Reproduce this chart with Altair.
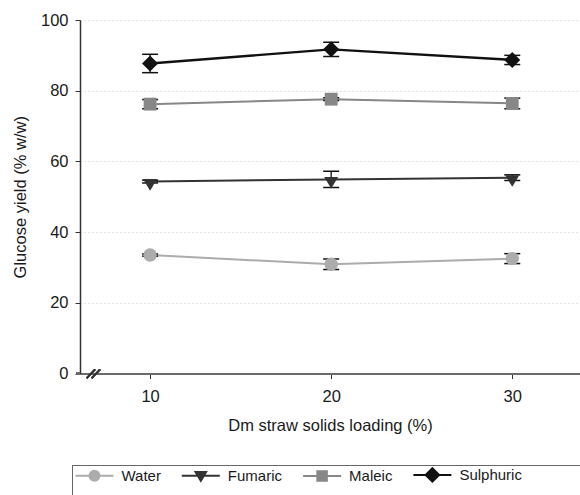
import altair as alt
import pandas as pd

# Solids loading (%) on the x axis
loading = [10, 20, 30]
series = ["Water", "Fumaric", "Maleic", "Sulphuric"]

# Mean glucose yield (% w/w) per pretreatment
water = [33.5, 30.9, 32.5]
fumaric = [54.3, 54.9, 55.4]
maleic = [76.2, 77.6, 76.4]
sulphuric = [87.7, 91.7, 88.7]

# Standard deviations
water_err = [0.3, 1.5, 1.4]
fumaric_err = [0.4, 2.3, 0.8]
maleic_err = [1.3, 0.4, 1.5]
sulphuric_err = [2.6, 2.0, 1.3]

# Styling per series
colors = ["#acacac", "#333333", "#878787", "#111111"]
line_widths = [2.0, 2.0, 2.0, 2.4]
marker_shapes = ["circle", "M-1,-0.35L1,-0.35L0,1.3Z", "square", "diamond"]
marker_sizes = [180, 196, 165, 256]

# Legend glyphs: a short line segment with the marker in the middle
seg = "M-3.8,0H3.8"
legend_paths = [
    seg + "M1,0A1,1,0,1,1,-1,0A1,1,0,1,1,1,0Z",
    seg + "M-1.05,-0.75H1.05L0,1Z",
    seg + "M-0.95,-0.95H0.95V0.95H-0.95Z",
    seg + "M0,-1.35L1.35,0L0,1.35L-1.35,0Z",
]

means = [water, fumaric, maleic, sulphuric]
errs = [water_err, fumaric_err, maleic_err, sulphuric_err]

rows = []
for i, name in enumerate(series):
    for j, x in enumerate(loading):
        m, e = means[i][j], errs[i][j]
        rows.append({
            "series": name, "order": i, "load": x, "value": m,
            "lo": m - e, "hi": m + e,
            "color": colors[i], "lw": line_widths[i],
            "shape": marker_shapes[i], "size": marker_sizes[i],
        })
df = pd.DataFrame(rows)

FONT = "Liberation Sans"
TEXT = "#1a1a1a"
W, H = 500, 353.5

x_scale = alt.Scale(domain=[6.13, 33.74], nice=False, zero=False)
y_scale = alt.Scale(domain=[0, 100], nice=False)

x_enc = alt.X(
    "load:Q", scale=x_scale,
    axis=alt.Axis(
        values=loading, grid=False, domainColor="#6a6a6a", domainWidth=2,
        tickColor="#333333", tickSize=5, tickWidth=1,
        labelFont=FONT, labelFontSize=16.5, labelColor=TEXT, labelPadding=10,
        title="Dm straw solids loading (%)", titleFont=FONT, titleFontSize=16.5,
        titleFontWeight="normal", titleColor=TEXT,
        titleX=W / 2, titleY=52, titleBaseline="middle", titleAlign="center",
    ),
)
y_enc = alt.Y(
    "value:Q", scale=y_scale,
    axis=alt.Axis(
        values=[0, 20, 40, 60, 80, 100], grid=True, gridDash=[1, 3],
        gridColor="#c4c4c4", gridWidth=1,
        domainColor="#333333", domainWidth=1.5,
        tickColor="#333333", tickSize=5, tickWidth=1,
        labelFont=FONT, labelFontSize=16.5, labelColor=TEXT, labelPadding=7,
        title="Glucose yield (% w/w)", titleFont=FONT, titleFontSize=16.5,
        titleFontWeight="normal", titleColor=TEXT,
        titleX=-60, titleY=H / 2, titleAngle=270,
        titleAlign="center", titleBaseline="middle",
    ),
)

base = alt.Chart(df)

# Frame behind the legend row
legend_frame = alt.Chart(df).mark_rect(
    fill="white", stroke="#666666", strokeWidth=1
).encode(
    x=alt.value(-7.5), x2=alt.value(530), y=alt.value(445.5), y2=alt.value(530)
)

lines = base.mark_line().encode(
    x=x_enc, y=y_enc, detail="series:N",
    color=alt.Color("color:N", scale=None),
    strokeWidth=alt.StrokeWidth("lw:Q", scale=None),
)

bars = base.mark_rule(color="#111111", strokeWidth=1.3).encode(
    x="load:Q", y="lo:Q", y2="hi:Q"
)
caps_lo = base.mark_tick(orient="horizontal", size=16, thickness=1.5,
                         color="#111111", opacity=1).encode(x="load:Q", y="lo:Q")
caps_hi = base.mark_tick(orient="horizontal", size=16, thickness=1.5,
                         color="#111111", opacity=1).encode(x="load:Q", y="hi:Q")

points = base.mark_point(filled=True, opacity=1, strokeWidth=0).encode(
    x="load:Q", y="value:Q",
    shape=alt.Shape("shape:N", scale=None),
    fill=alt.Fill("color:N", scale=None),
    size=alt.Size("size:Q", scale=None),
)

# Legend-only layer (no rows drawn); its scales carry the series styling
legend = alt.Legend(
    orient="none", legendX=-8, legendY=446, direction="horizontal",
    title=None, padding=1,
    symbolStrokeWidth=2, symbolSize=100, symbolOffset=14,
    labelOffset=19.5, columnPadding=16.3,
    labelFont=FONT, labelFontSize=15, labelColor=TEXT,
)
legend_layer = base.transform_filter("false").mark_point(
    filled=True, size=100, opacity=1
).encode(
    x="load:Q", y="value:Q",
    shape=alt.Shape("series:N", scale=alt.Scale(domain=series, range=legend_paths),
                    legend=legend, sort=series),
    fill=alt.Fill("series:N", scale=alt.Scale(domain=series, range=colors),
                  legend=legend, sort=series),
    stroke=alt.Stroke("series:N", scale=alt.Scale(domain=series, range=colors),
                      legend=legend, sort=series),
)

# Axis break marks and the short lead-in of the x axis line
break_a = alt.Chart(df).mark_rule(color="#333333", strokeWidth=1.2).encode(
    x=alt.value(6.7), x2=alt.value(15), y=alt.value(358), y2=alt.value(349.5)
)
break_b = alt.Chart(df).mark_rule(color="#333333", strokeWidth=1.2).encode(
    x=alt.value(11.7), x2=alt.value(20), y=alt.value(358), y2=alt.value(349.5)
)
lead_in = alt.Chart(df).mark_rule(color="#6a6a6a", strokeWidth=2).encode(
    x=alt.value(-4), x2=alt.value(0), y=alt.value(H), y2=alt.value(H)
)

chart = alt.layer(
    legend_frame, lines, bars, caps_lo, caps_hi, points, legend_layer,
    lead_in, break_a, break_b
).properties(
    width=W, height=H,
    padding={"left": 80, "top": 20, "right": 0, "bottom": 495 - 20 - H},
    autosize=alt.AutoSizeParams(type="none"),
    background="white",
).configure_view(stroke=None)

chart.save("out.html", embed_options={"renderer": "svg", "actions": False})
